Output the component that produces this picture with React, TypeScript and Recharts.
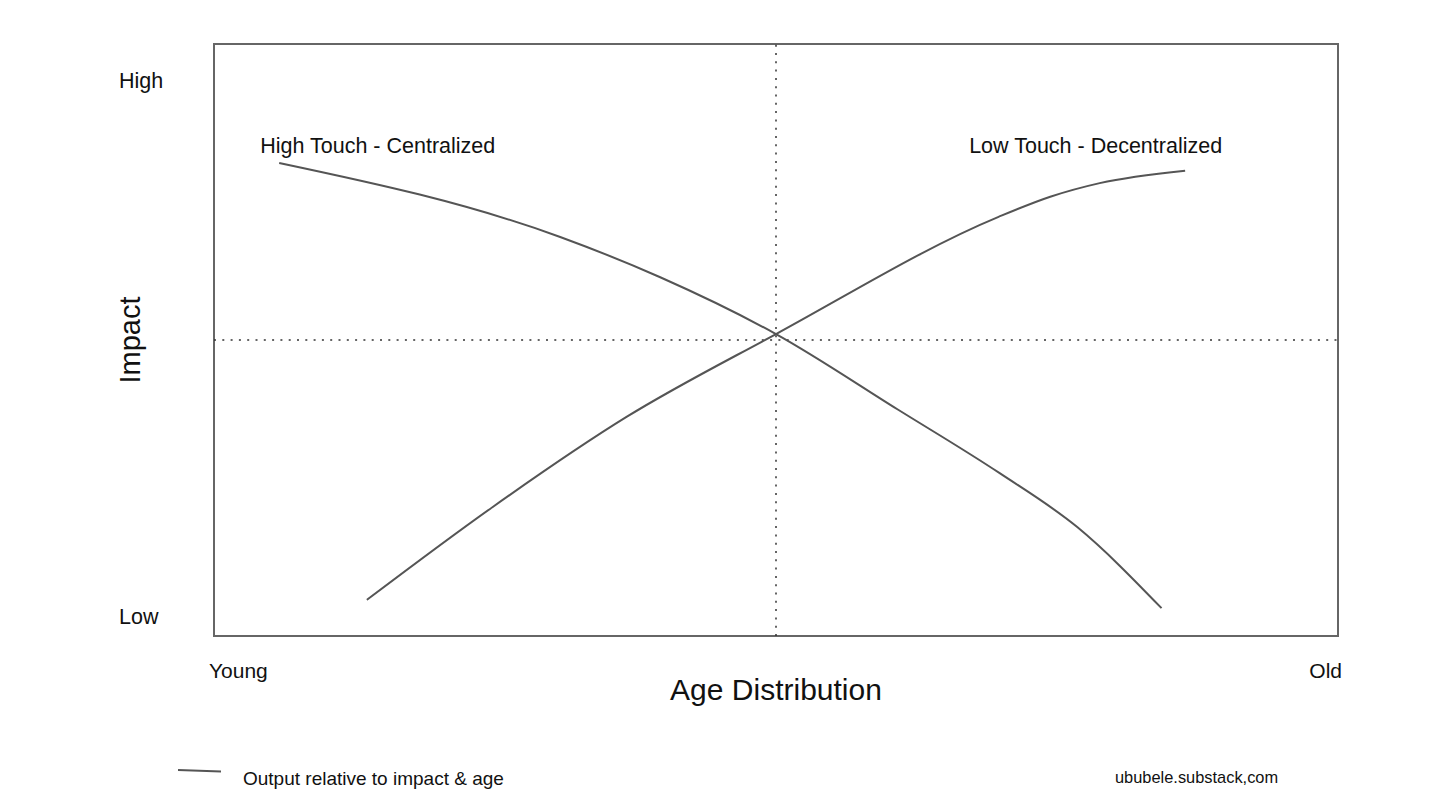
import React from 'react';
import {
  LineChart,
  Line,
  XAxis,
  YAxis,
  ReferenceLine,
  ReferenceArea,
  LabelList,
} from 'recharts';

// age position (0 = young, 100 = old) vs impact (0 = low, 100 = high)
const centralizedAge = [5.8, 30.8, 39.7, 50, 60.8, 69.9, 76.8, 84.3];
const centralizedImpact = [79.9, 67.4, 60.6, 51.0, 38.3, 27.5, 18.4, 4.7];

const decentralizedAge = [13.6, 24.8, 36.7, 50, 69.8, 74.4, 78.8, 86.4];
const decentralizedImpact = [6.1, 21.8, 37.0, 51.0, 70.8, 74.2, 76.5, 78.6];

const xTicks = [0, 100];
const xTickLabels = ['Young', 'Old'];
const yTicks = [3.2, 93.8];
const yTickLabels = ['Low', 'High'];

const toPoints = (xs: number[], ys: number[]) => xs.map((age, i) => ({ age, impact: ys[i] }));

const centralized = toPoints(centralizedAge, centralizedImpact);
const decentralized = toPoints(decentralizedAge, decentralizedImpact);

const FONT = '"Liberation Sans", Arial, Helvetica, sans-serif';
const LINE_COLOR = '#555555';

const XTick = (props: any) => {
  const { x, y, payload } = props;
  const i = xTicks.indexOf(payload.value);
  const first = i === 0;
  return (
    <text
      x={first ? x - 5 : x + 4}
      y={y + 34}
      textAnchor={first ? 'start' : 'end'}
      fontSize={21}
      fontFamily={FONT}
      fill="#111"
    >
      {xTickLabels[i]}
    </text>
  );
};

const YTick = (props: any) => {
  const { x, y, payload } = props;
  const i = yTicks.indexOf(payload.value);
  return (
    <text x={x - 87} y={y + 7} textAnchor="start" fontSize={21.5} fontFamily={FONT} fill="#111">
      {yTickLabels[i]}
    </text>
  );
};

// series name written next to the outer end of each curve
const endLabel = (text: string, where: 'first' | 'last', count: number) => (props: any) => {
  const { x, y, index } = props;
  if (where === 'first' && index !== 0) return null;
  if (where === 'last' && index !== count - 1) return null;
  return (
    <text
      x={where === 'first' ? x - 19 : x + 37}
      y={where === 'first' ? y - 10 : y - 18}
      textAnchor={where === 'first' ? 'start' : 'end'}
      fontSize={21.5}
      fontFamily={FONT}
      fill="#111"
    >
      {text}
    </text>
  );
};

export default function App() {
  return (
    <div style={{ position: 'absolute', left: 0, top: 0, width: 1456, height: 799, background: '#fff' }}>
      <LineChart width={1456} height={799} margin={{ top: 44, right: 118, bottom: 83, left: 114 }}>
        <XAxis
          dataKey="age"
          type="number"
          domain={[0, 100]}
          ticks={xTicks}
          tick={<XTick />}
          axisLine={false}
          tickLine={false}
          height={80}
          allowDuplicatedCategory={false}
          label={{
            value: 'Age Distribution',
            position: 'insideBottom',
            offset: 16,
            fontSize: 30,
            fontFamily: FONT,
            fill: '#111',
          }}
        />
        <YAxis
          dataKey="impact"
          type="number"
          domain={[0, 100]}
          ticks={yTicks}
          tick={<YTick />}
          axisLine={false}
          tickLine={false}
          width={100}
          label={{
            value: 'Impact',
            angle: -90,
            position: 'insideLeft',
            offset: 16,
            textAnchor: 'middle',
            fontSize: 29,
            fontFamily: FONT,
            fill: '#111',
          }}
        />
        <ReferenceLine x={50} stroke="#333" strokeWidth={1.5} strokeDasharray="2 6.3" />
        <ReferenceLine y={50} stroke="#333" strokeWidth={1.5} strokeDasharray="2 6.3" />
        <ReferenceArea x1={0} x2={100} y1={0} y2={100} fill="none" stroke="#666" strokeWidth={2} />
        <Line
          data={centralized}
          dataKey="impact"
          type="monotone"
          stroke={LINE_COLOR}
          strokeWidth={2}
          dot={false}
          isAnimationActive={false}
        >
          <LabelList content={endLabel('High Touch - Centralized', 'first', centralized.length)} />
        </Line>
        <Line
          data={decentralized}
          dataKey="impact"
          type="monotone"
          stroke={LINE_COLOR}
          strokeWidth={2}
          dot={false}
          isAnimationActive={false}
        >
          <LabelList content={endLabel('Low Touch - Decentralized', 'last', decentralized.length)} />
        </Line>
      </LineChart>
      <div style={{ position: 'absolute', left: 178, top: 754, display: 'flex', alignItems: 'center', fontFamily: FONT }}>
        <svg width={44} height={10} style={{ display: 'block' }}>
          <line x1={0} y1={3} x2={43} y2={4.5} stroke={LINE_COLOR} strokeWidth={2} />
        </svg>
        <span style={{ marginLeft: 21, marginTop: 14, fontSize: 19, color: '#111' }}>
          Output relative to impact &amp; age
        </span>
      </div>
      <div style={{ position: 'absolute', left: 1115, top: 768, fontFamily: FONT, fontSize: 16.4, color: '#111' }}>
        ububele.substack,com
      </div>
    </div>
  );
}
